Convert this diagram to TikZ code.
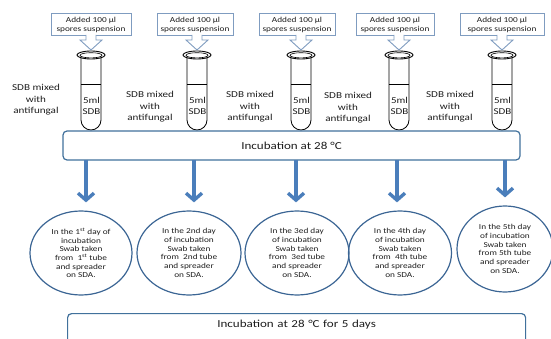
\documentclass[tikz,border=0pt]{standalone}
\usepackage{fontspec}
\setmainfont[FakeStretch=1.22]{Carlito}
\usetikzlibrary{arrows.meta,shapes.geometric}

\definecolor{calloutline}{HTML}{7F9CC0}
\definecolor{boxline}{HTML}{41719C}
\definecolor{flowblue}{HTML}{4A7EBB}
\definecolor{ovalline}{HTML}{3B6594}
\definecolor{txt}{HTML}{1E1E1E}

\tikzset{
  calloutbox/.style={draw=calloutline, line width=0.9pt, fill=white, inner sep=0pt,
    minimum height=22pt, align=center, text=txt, font=\fontsize{7.6}{9}\selectfont},
  calloutarrow/.style={draw=calloutline, line width=0.9pt, fill=white},
  mixlabel/.style={align=center, text=txt, font=\fontsize{9.1}{11.5}\selectfont},
  tubelabel/.style={align=center, text=txt, font=\fontsize{9}{10.5}\selectfont},
  roundbox/.style={draw=boxline, line width=1.2pt, rounded corners=4pt, fill=white,
    inner sep=0pt, text=txt, font=\fontsize{10.7}{13}\selectfont},
  flowarrow/.style={draw=flowblue, line width=3.4pt,
    -{Straight Barb[length=7pt, width=16pt]}, shorten >=8pt},
  dayoval/.style={ellipse, draw=ovalline, line width=1.2pt, inner sep=0pt,
    align=center, text=txt, font=\fontsize{7.6}{8.7}\selectfont},
  testtube/.pic={
    \draw[line width=0.8pt] (-10,0) -- (-10,65) arc[start angle=180, end angle=0, radius=10] -- (10,0);
    \draw[line width=0.6pt] (-10,29) -- (10,29);
    \draw[line width=0.9pt, fill=white] (0,0) ellipse [x radius=14, y radius=4];
    \draw[line width=0.6pt] (0,0.3) ellipse [x radius=11, y radius=2.6];
  }
}

\begin{document}
\begin{tikzpicture}[x=1pt, y=-1pt]
\useasboundingbox (0,0) rectangle (551,339);

% tubes
\foreach \i/\x in {1/91, 2/197, 3/301, 4/399, 5/502} {
  \pic at (\x,55) {testtube};
  \node[tubelabel] (t\i) at (\x+0.5,106) {5ml\\SDB};
}

% callout boxes with their down arrows
\foreach \i/\x/\w/\ax in {1/91/80/91, 2/195/76/197, 3/297/76/301, 4/395/78/399, 5/502/84/502} {
  \node[calloutbox, minimum width=\w pt] (c\i) at (\x,24.5) {Added 100 µl\\spores suspension};
  \filldraw[calloutarrow] (\ax-5,35) -- (\ax-5,40) -- (\ax-11,40) -- (\ax,50) -- (\ax+11,40) -- (\ax+5,40) -- (\ax+5,35);
}

% labels between the tubes
\node[mixlabel] (m1) at (36,100) {SDB mixed\\with\\antifungal};
\node[mixlabel] (m2) at (150,107) {SDB mixed\\with\\antifungal};
\node[mixlabel] (m3) at (250,107) {SDB mixed\\with\\antifungal};
\node[mixlabel] (m4) at (348,108) {SDB mixed\\with\\antifungal};
\node[mixlabel] (m5) at (450,107) {SDB mixed\\with\\antifungal};

% incubation bar
\node[roundbox, minimum width=457pt, minimum height=29pt] (incub) at (291.5,145.5) {Incubation at 28 °C};

% daily sampling ovals
\node[dayoval, minimum width=102pt, minimum height=84pt] (e1) at (81,253)
  {In the 1\textsuperscript{st} day of\\incubation\\Swab taken\\from\ \ 1\textsuperscript{st} tube\\and spreader\\on SDA.};
\node[dayoval, minimum width=104pt, minimum height=84pt] (e2) at (189,253)
  {In the 2nd day\\of incubation\\Swab taken\\from\ \ 2nd tube\\and spreader\\on SDA.};
\node[dayoval, minimum width=104pt, minimum height=84pt] (e3) at (297,253)
  {In the 3ed day\\of incubation\\Swab taken\\from\ \ 3ed tube\\and spreader\\on SDA.};
\node[dayoval, minimum width=103pt, minimum height=84pt] (e4) at (400,253)
  {In the 4th day\\of incubation\\Swab taken\\from\ \ 4th tube\\and spreader\\on SDA.};
\node[dayoval, minimum width=96pt, minimum height=86pt] (e5) at (505,249)
  {In the 5th day\\of incubation\\Swab taken\\from 5th tube\\and spreader\\on SDA.};

% arrows from the incubation bar to the ovals
\foreach \i/\x in {1/86, 2/194, 3/296, 4/397, 5/505} {
  \coordinate (s\i) at (\x,160);
  \draw[flowarrow] (s\i) -- (s\i |- e\i.north);
}

% final incubation box
\node[roundbox, anchor=north west, minimum width=458pt, text width=458pt, align=center,
  text height=14pt, text depth=26pt] (final) at (67,313) {Incubation at 28 °C for 5 days};
\end{tikzpicture}
\end{document}
